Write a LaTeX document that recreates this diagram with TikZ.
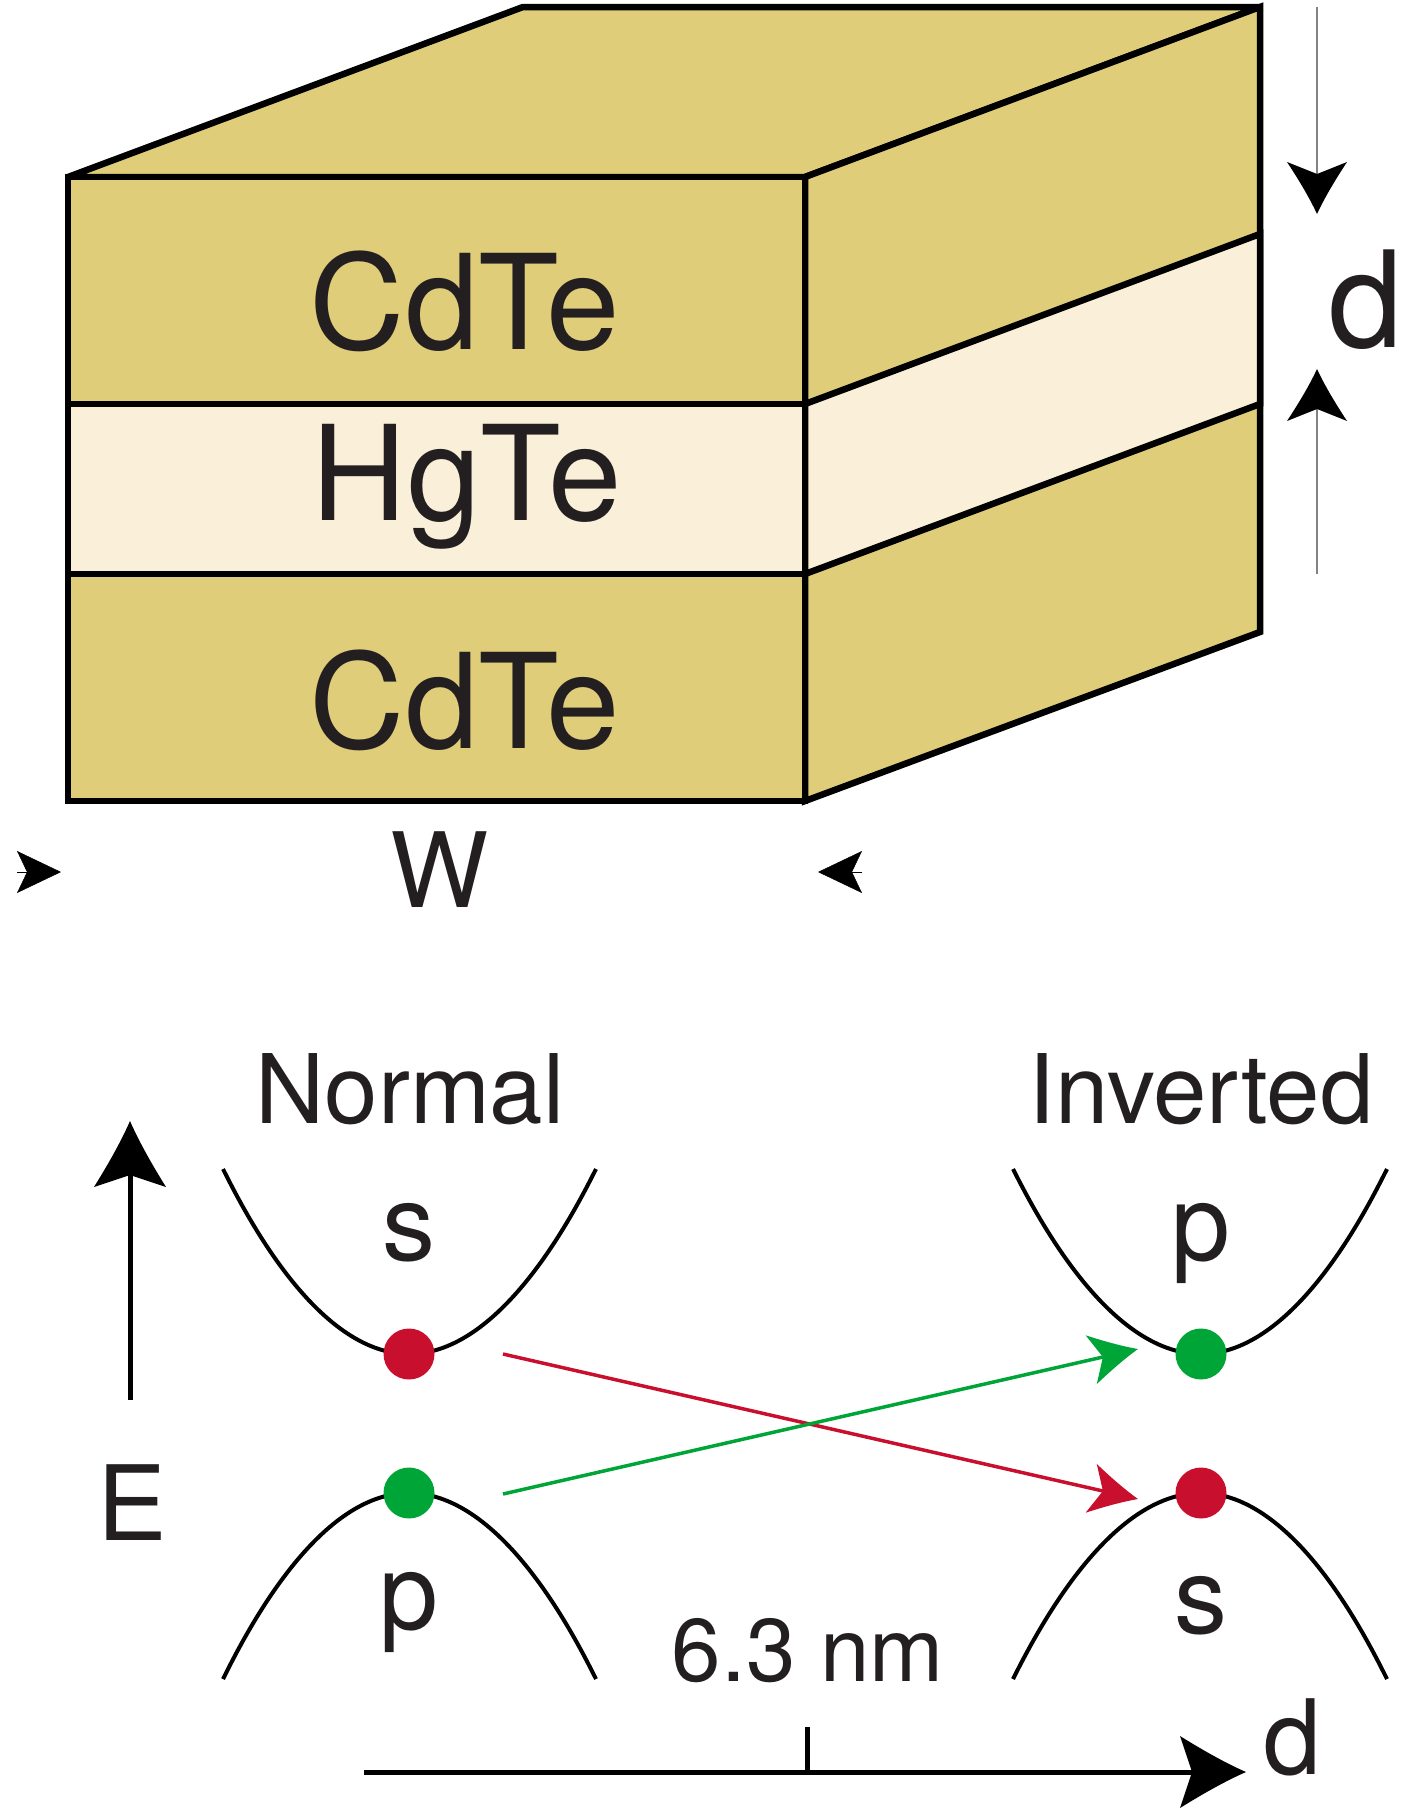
\documentclass[tikz,border=0pt]{standalone}
\usepackage{fontspec}
\setmainfont{TeX Gyre Heros}
\usetikzlibrary{arrows.meta}
\definecolor{cdte}{RGB}{223,205,122}
\definecolor{hgte}{RGB}{250,240,218}
\definecolor{dotred}{RGB}{200,16,46}
\definecolor{dotgreen}{RGB}{0,165,56}
\definecolor{dimgray}{RGB}{130,130,130}
\definecolor{textblack}{RGB}{35,31,32}
\newdimen\curvyinsetpos
\makeatletter
\pgfdeclarearrow{
  name = CurvyHead,
  parameters = {\the\pgfarrowlength,\the\pgfarrowwidth,\the\pgfarrowinset},
  setup code = {
    \pgfarrowssettipend{0pt}
    \pgf@xa=\pgfarrowinset
    \advance\pgf@xa by -\pgfarrowlength
    \pgfarrowssetlineend{\pgf@xa}
    \pgf@xb=-\pgfarrowlength
    \pgfarrowssetbackend{\pgf@xb}
    \pgfarrowshullpoint{0pt}{0pt}
    \pgfarrowshullpoint{\pgf@xb}{.5\pgfarrowwidth}
    \pgfarrowshullpoint{\pgf@xb}{-.5\pgfarrowwidth}
    \pgfarrowssavethe\pgfarrowlength
    \pgfarrowssavethe\pgfarrowwidth
    \pgfarrowssavethe\pgfarrowinset
  },
  drawing code = {
    \curvyinsetpos=\pgfarrowinset
    \advance\curvyinsetpos by -\pgfarrowlength
    \pgfpathmoveto{\pgfqpoint{0pt}{0pt}}
    \pgfpathcurveto{\pgfqpoint{-.3\pgfarrowlength}{.12\pgfarrowwidth}}{\pgfqpoint{-.65\pgfarrowlength}{.3\pgfarrowwidth}}{\pgfqpoint{-\pgfarrowlength}{.5\pgfarrowwidth}}
    \pgfpathlineto{\pgfqpoint{\curvyinsetpos}{0pt}}
    \pgfpathlineto{\pgfqpoint{-\pgfarrowlength}{-.5\pgfarrowwidth}}
    \pgfpathcurveto{\pgfqpoint{-.65\pgfarrowlength}{-.3\pgfarrowwidth}}{\pgfqpoint{-.3\pgfarrowlength}{-.12\pgfarrowwidth}}{\pgfqpoint{0pt}{0pt}}
    \pgfpathclose
    \pgfusepathqfill
  },
  defaults = {length=12pt, width=12pt, inset=3pt}
}
\makeatother
\begin{document}
\begin{tikzpicture}[x=1pt,y=-1pt,
  slab/.style={draw=black,line width=6.5pt,line join=miter,miter limit=2},
  layerlabel/.style={font=\fontsize{132}{150}\selectfont,inner sep=0pt,anchor=base,text=textblack},
  dimlabel/.style={font=\fontsize{134}{150}\selectfont,inner sep=0pt,anchor=base east,text=textblack},
  wlabel/.style={font=\fontsize{104}{120}\selectfont,inner sep=0pt,anchor=base,text=textblack},
  title/.style={font=\fontsize{96}{110}\selectfont,inner sep=0pt,anchor=base,text=textblack},
  orb/.style={font=\fontsize{106}{120}\selectfont,inner sep=0pt,anchor=base,text=textblack},
  axlabel/.style={font=\fontsize{104}{120}\selectfont,inner sep=0pt,anchor=base,text=textblack},
  nmlabel/.style={font=\fontsize{89}{100}\selectfont,inner sep=0pt,anchor=base,text=textblack},
  band/.style={draw=black,line width=4pt},
  axis/.style={draw=black,line width=5pt},
  dimline/.style={draw=dimgray,line width=1.5pt},
  dot/.style={circle,minimum size=51pt,inner sep=0pt,draw=none},
  transition/.style={line width=3.5pt},
  bigtip/.style={-{CurvyHead[length=66pt,width=72pt,inset=12pt]}},
  smalltip/.style={-{CurvyHead[length=48pt,width=50pt,inset=12pt]}},
  dimtip/.style={-{CurvyHead[length=52pt,width=60pt,inset=12pt,color=black,fill=black]}},
  wtip/.style={-{Stealth[length=44pt,width=42pt,inset=10pt]}}
]
\useasboundingbox (0,0) rectangle (1404,1812);

% ---- slab: top face
\filldraw[slab,fill=cdte] (68,177) -- (523,7) -- (1260,7) -- (805,177) -- cycle;
% right face
\filldraw[slab,fill=cdte] (805,177) -- (1260,7) -- (1260,632) -- (805,801) -- cycle;
\filldraw[slab,fill=hgte] (805,404) -- (1260,234) -- (1260,404) -- (805,574) -- cycle;
% front face
\filldraw[slab,fill=cdte] (68,177) rectangle (805,404);
\filldraw[slab,fill=hgte] (68,404) rectangle (805,574);
\filldraw[slab,fill=cdte] (68,574) rectangle (805,801);

\node[layerlabel] (cdteTop) at (465,349) {CdTe};
\node[layerlabel] (hgte) at (467,520) {HgTe};
\node[layerlabel] (cdteBot) at (465,748) {CdTe};

% ---- thickness d
\coordinate (dDownStart) at (1317,7);
\coordinate (dDownTip) at (1317,214);
\coordinate (dUpStart) at (1317,574);
\coordinate (dUpTip) at (1317,369);
\draw[dimline,dimtip] (dDownStart) -- (dDownTip);
\draw[dimline,dimtip] (dUpStart) -- (dUpTip);
\node[dimlabel] (dTop) at (1403,347) {d};

% ---- width W
\coordinate (wLback) at (17,872);
\coordinate (wLtip) at (61,872);
\coordinate (wRback) at (862,872);
\coordinate (wRtip) at (818,872);
\draw[line width=0.5pt,wtip] (wLback) -- (wLtip);
\draw[line width=0.5pt,wtip] (wRback) -- (wRtip);
\node[wlabel] (W) at (440,907) {W};

% ---- band diagrams
\node[title] (normal) at (410,1123) {Normal};
\node[title] (inverted) at (1201,1123) {Inverted};

% energy axis
\coordinate (Ebot) at (130,1400);
\coordinate (Etop) at (130,1121);
\draw[axis,bigtip] (Ebot) -- (Etop);
\node[axlabel] (E) at (132,1540) {E};

% transitions
\coordinate (redStart) at (503,1354);
\coordinate (redEnd) at (1138,1499);
\coordinate (greenStart) at (503,1494);
\coordinate (greenEnd) at (1138,1349);
\draw[transition,draw=dotred,smalltip] (redStart) -- (redEnd);
\draw[transition,draw=dotgreen,smalltip] (greenStart) -- (greenEnd);

% parabolas
\draw[band] (223,1169) parabola bend (409,1354) (596,1169);
\draw[band] (223,1679) parabola bend (409,1493) (596,1679);
\draw[band] (1013,1169) parabola bend (1201,1354) (1387,1169);
\draw[band] (1013,1679) parabola bend (1201,1493) (1387,1679);

% dots
\node[dot,fill=dotred] (nS) at (409,1354) {};
\node[dot,fill=dotgreen] (nP) at (409,1493) {};
\node[dot,fill=dotgreen] (iP) at (1201,1354) {};
\node[dot,fill=dotred] (iS) at (1201,1493) {};

\node[orb] (sLeft) at (409,1260) {s};
\node[orb] (pLeft) at (409,1629) {p};
\node[orb] (pRight) at (1201,1260) {p};
\node[orb] (sRight) at (1201,1633) {s};

% thickness axis
\coordinate (dAxStart) at (364,1772);
\coordinate (dAxEnd) at (1246,1772);
\coordinate (tickTop) at (807,1727);
\draw[axis,bigtip] (dAxStart) -- (dAxEnd);
\draw[axis] (tickTop) -- (tickTop |- dAxStart);
\node[nmlabel] (nm) at (808,1681) {6.3 nm};
\node[axlabel] (dBot) at (1292,1774) {d};
\end{tikzpicture}
\end{document}
